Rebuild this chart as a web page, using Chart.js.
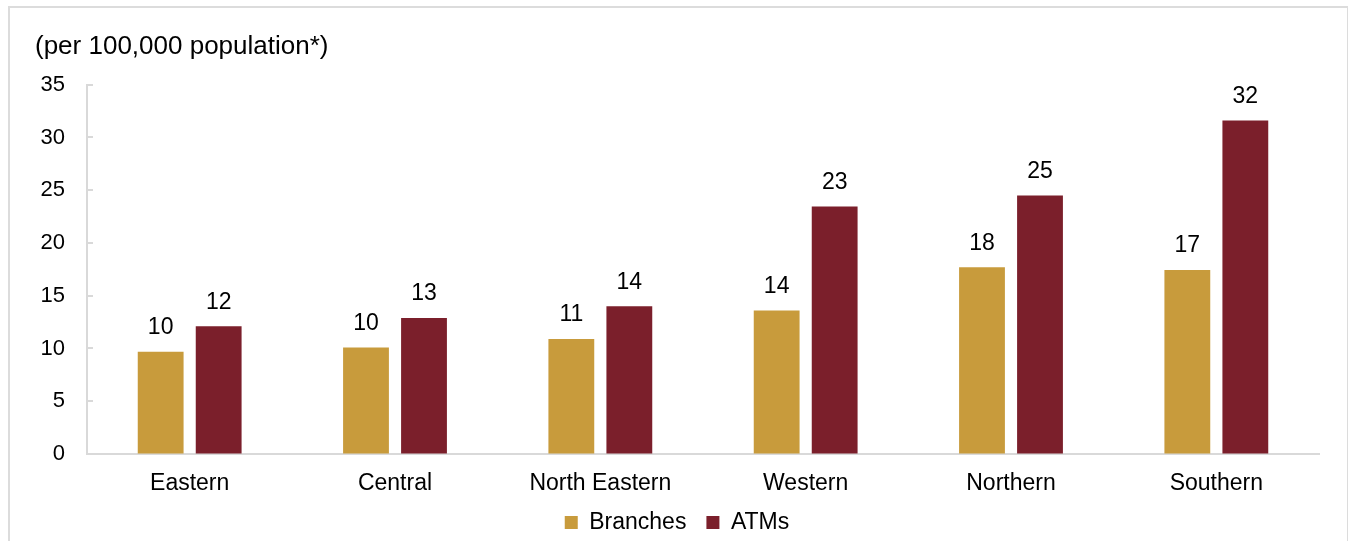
<!DOCTYPE html>
<html>
<head>
<meta charset="utf-8">
<script src="https://cdn.jsdelivr.net/npm/chart.js@4.4.1/dist/chart.umd.min.js"></script>
<style>
  html, body { margin: 0; padding: 0; background: #fff; }
  #wrap { position: relative; width: 1348px; height: 541px; overflow: hidden; }
  #frame {
    position: absolute; left: 8px; top: 6px; width: 1337px; height: 560px;
    border: 2px solid #dcdcdc; pointer-events: none;
  }
</style>
</head>
<body>
<div id="wrap">
  <canvas id="regionChart" width="1348" height="541"></canvas>
  <div id="frame"></div>
</div>
<script>
const regions = ["Eastern", "Central", "North Eastern", "Western", "Northern", "Southern"];
const branches = [9.7, 10.1, 10.9, 13.6, 17.7, 17.45];
const atms = [12.1, 12.9, 14.0, 23.45, 24.5, 31.6];
const yTicks = [0, 5, 10, 15, 20, 25, 30, 35];

const GOLD = "#c89b3c";
const MAROON = "#7b1f2b";
const AXIS = "#d9d9d9";
const FONT = "'Liberation Sans', Arial, sans-serif";

// value labels above each bar, rounded to whole numbers
const barLabels = {
  id: "barLabels",
  afterDatasetsDraw(chart) {
    const ctx = chart.ctx;
    ctx.save();
    ctx.font = "23px " + FONT;
    ctx.fillStyle = "#000";
    ctx.textAlign = "center";
    ctx.textBaseline = "middle";
    chart.data.datasets.forEach((ds, i) => {
      chart.getDatasetMeta(i).data.forEach((bar, j) => {
        ctx.fillText(String(Math.round(ds.data[j])), bar.x, bar.y - 24);
      });
    });
    ctx.restore();
  },
};

// short tick marks pointing into the plot on the value axis
const innerTicks = {
  id: "innerTicks",
  afterDraw(chart) {
    const ctx = chart.ctx;
    const y = chart.scales.y;
    const left = chart.chartArea.left;
    ctx.save();
    ctx.strokeStyle = AXIS;
    ctx.lineWidth = 2;
    yTicks.forEach((v) => {
      const py = Math.round(y.getPixelForValue(v));
      ctx.beginPath();
      ctx.moveTo(left, py);
      ctx.lineTo(left + 6, py);
      ctx.stroke();
    });
    ctx.restore();
  },
};

new Chart(document.getElementById("regionChart"), {
  type: "bar",
  data: {
    labels: regions,
    datasets: [
      { label: "Branches", data: branches, backgroundColor: GOLD },
      { label: "ATMs", data: atms, backgroundColor: MAROON },
    ],
  },
  options: {
    responsive: false,
    animation: false,
    events: [],
    categoryPercentage: 0.565,
    barPercentage: 0.79,
    layout: { padding: { left: 35, right: 29, top: 20, bottom: -3 } },
    plugins: {
      tooltip: { enabled: false },
      title: {
        display: true,
        text: "(per 100,000 population*)",
        align: "start",
        color: "#000",
        font: { family: FONT, size: 26, weight: "normal" },
        padding: { top: 11, bottom: 22.5 },
      },
      legend: {
        position: "bottom",
        labels: {
          color: "#000",
          font: { family: FONT, size: 23 },
          boxWidth: 13,
          boxHeight: 13,
          padding: 20,
        },
      },
    },
    scales: {
      x: {
        afterFit(scale) { scale.height = 37; },
        grid: { display: true, drawOnChartArea: false, drawTicks: false },
        border: { display: true, color: AXIS, width: 2 },
        ticks: { color: "#000", font: { family: FONT, size: 23 }, padding: 16 },
      },
      y: {
        min: 0,
        max: 35,
        afterFit(scale) { scale.width = 52; },
        afterBuildTicks(scale) { scale.ticks = yTicks.map((v) => ({ value: v })); },
        grid: { display: true, drawOnChartArea: false, drawTicks: false },
        border: { display: true, color: AXIS, width: 2 },
        ticks: { color: "#000", font: { family: FONT, size: 22 }, padding: 22 },
      },
    },
  },
  plugins: [barLabels, innerTicks],
});
</script>
</body>
</html>
